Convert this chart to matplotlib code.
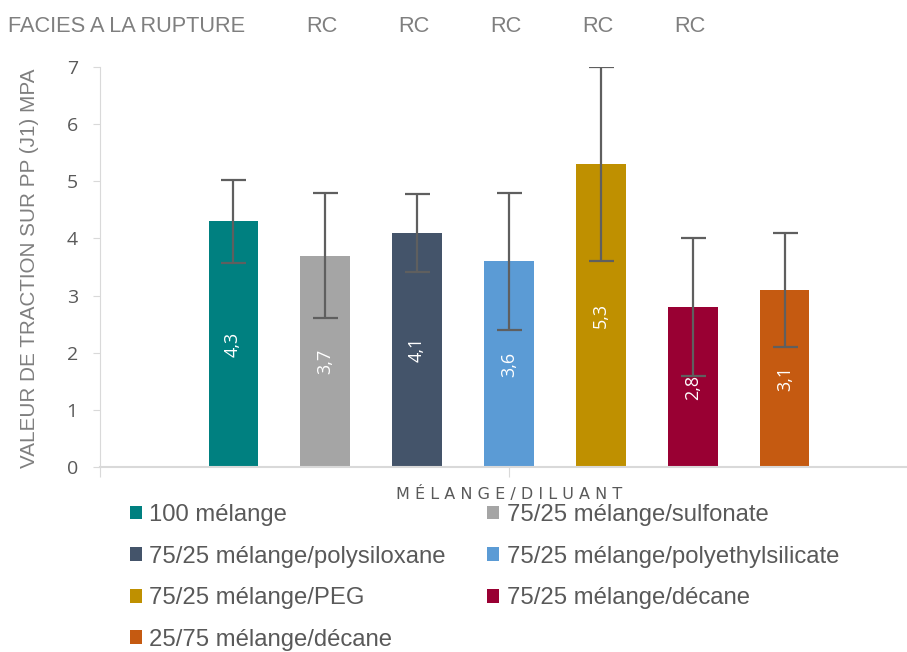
import matplotlib
matplotlib.use('Agg')
import matplotlib.pyplot as plt
import matplotlib.transforms as mtransforms

plt.rcParams['font.family'] = ['Liberation Sans', 'DejaVu Sans']

# Essai de traction sur PP (J1)
series = [
    '100 mélange',
    '75/25 mélange/sulfonate',
    '75/25 mélange/polysiloxane',
    '75/25 mélange/polyethylsilicate',
    '75/25 mélange/PEG',
    '75/25 mélange/décane',
    '25/75 mélange/décane',
]
valeurs = [4.3, 3.7, 4.1, 3.6, 5.3, 2.8, 3.1]
ecarts = [0.73, 1.1, 0.68, 1.2, 1.7, 1.2, 1.0]
facies = ['', 'RC', 'RC', 'RC', 'RC', 'RC', '']
couleurs = ['#008080', '#A5A5A5', '#44546A', '#5B9BD5', '#BF9000', '#990033', '#C55A11']
categorie = 'MÉLANGE/DILUANT'

W, H = 907, 652
fig = plt.figure(figsize=(W / 100, H / 100), dpi=100)
ax = fig.add_axes([100 / W, 1 - 467 / H, 818 / W, 400 / H])

pos = [i - (len(valeurs) - 1) / 2 for i in range(len(valeurs))]
barres = ax.bar(pos, valeurs, width=0.533, color=couleurs, yerr=ecarts,
                error_kw=dict(ecolor='#5f5f5f', elinewidth=1.6, capsize=9, capthick=1.6))

for x, v in zip(pos, valeurs):
    ax.text(x, v / 2, f'{v:.1f}'.replace('.', ','), rotation=90, ha='center', va='center',
            color='white', fontsize=13, family='Open Sans', zorder=5)

ax.set_xlim(-4.446, 4.446)
ax.set_ylim(0, 7)
ax.set_yticks(range(8))
ax.set_xticks([-4.446, 0])
ax.set_xticklabels([])
for s in ['top', 'right']:
    ax.spines[s].set_visible(False)
for s in ['left', 'bottom']:
    ax.spines[s].set_color('#d9d9d9')
ax.spines['bottom'].set_linewidth(1.5)
ax.tick_params(axis='y', direction='out', length=5, color='#d9d9d9', labelcolor='#595959',
               labelsize=14, pad=11)
for lab in ax.get_yticklabels():
    lab.set_family('Open Sans')
ax.tick_params(axis='x', direction='out', length=7, color='#d9d9d9')

fig.text(509 / W, 1 - 494 / H, ' '.join(categorie), ha='center', va='center',
         fontsize=11.5, color='#595959', family='DejaVu Sans')

fig.text(30 / W, 1 - 268 / H, 'VALEUR DE TRACTION SUR PP (J1) MPA', rotation=90,
         ha='center', va='center', fontsize=14.9, color='#7f7f7f')

# ligne "faciès à la rupture" au-dessus du graphique
fig.text(8 / W, 1 - 26 / H, 'FACIES A LA RUPTURE', ha='left', va='center',
         fontsize=15.7, color='#7f7f7f')
trans = mtransforms.blended_transform_factory(ax.transData, fig.transFigure)
for x, f in zip(pos, facies):
    if f:
        ax.text(x - 0.03, 1 - 26 / H, f, transform=trans, ha='center', va='center',
                fontsize=15.7, color='#7f7f7f')

ordre = [0, 2, 4, 6, 1, 3, 5]
fig.legend([barres[i] for i in ordre], [series[i] for i in ordre], ncol=2,
           loc='upper left', bbox_to_anchor=(130 / W, 1 - 504 / H), frameon=False,
           fontsize=17.2, handlelength=0.5, handleheight=0.5, handletextpad=0.3,
           labelspacing=0.82, columnspacing=1.75, borderpad=0, borderaxespad=0,
           labelcolor='#595959')

fig.savefig('out.png', dpi=100)
